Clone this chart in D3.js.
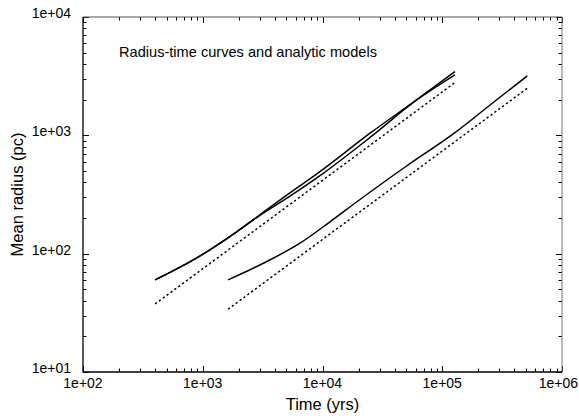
<!DOCTYPE html>
<html>
<head>
<meta charset="utf-8">
<script src="https://cdn.jsdelivr.net/npm/d3@7"></script>
<style>
  html, body { margin: 0; padding: 0; background: #fff; }
  svg { display: block; font-family: "Liberation Sans", Arial, Helvetica, sans-serif; }
</style>
</head>
<body>
<svg id="chart" width="579" height="416"></svg>
<script>
// ---- Data ----
const title = "Radius-time curves and analytic models";
const xTitle = "Time (yrs)";
const yTitle = "Mean radius (pc)";
const xTickValues = [1e2, 1e3, 1e4, 1e5, 1e6];
const xTickLabels = ["1e+02", "1e+03", "1e+04", "1e+05", "1e+06"];
const yTickValues = [1e1, 1e2, 1e3, 1e4];
const yTickLabels = ["1e+01", "1e+02", "1e+03", "1e+04"];

// Simulated curves (solid)
const timeA   = [400, 834, 1920, 3000, 5200, 9530, 24950, 59000, 127700];
const radiusA = [60, 88.5, 153, 213, 320, 493, 1042, 1950, 3454];
const timeB   = [400, 834, 1920, 3000, 5200, 9530, 24950, 59000, 127700];
const radiusB = [60, 88.5, 153, 211, 300, 456, 960, 1935, 3243];
const timeC   = [1626, 3206, 6486, 11560, 19900, 50000, 123600, 303000, 513000];
const radiusC = [60, 83, 122.5, 186, 280, 548, 1028, 2099, 3178];
// Analytic models (dashed)
const timeD1   = [400, 127700];
const radiusD1 = [37.6, 2793];
const timeD2   = [1626, 513000];
const radiusD2 = [33.9, 2500];

// ---- Layout ----
const svg = d3.select("#chart");
const L = 83, R = 562, T = 17, B = 372;
const x = d3.scaleLog().domain([1e2, 1e6]).range([L, R]);
const y = d3.scaleLog().domain([1e1, 1e4]).range([B, T]);

// Minor ticks
const minorX = [], minorY = [];
for (let d = 1e2; d < 1e6; d *= 10) for (let k = 2; k <= 9; k++) minorX.push(d * k);
for (let d = 1e1; d < 1e4; d *= 10) for (let k = 2; k <= 9; k++) minorY.push(d * k);

const tickG = svg.append("g").attr("stroke", "#000").attr("stroke-width", 1);
xTickValues.forEach(v => {
  const px = Math.round(x(v)) + 0.5;
  tickG.append("line").attr("x1", px).attr("x2", px).attr("y1", B).attr("y2", B - 6);
  tickG.append("line").attr("x1", px).attr("x2", px).attr("y1", T).attr("y2", T + 6);
});
minorX.forEach(v => {
  const px = Math.round(x(v)) + 0.5;
  tickG.append("line").attr("x1", px).attr("x2", px).attr("y1", B).attr("y2", B - 3.5);
  tickG.append("line").attr("x1", px).attr("x2", px).attr("y1", T).attr("y2", T + 3.5);
});
yTickValues.forEach(v => {
  const py = Math.round(y(v)) + 0.5;
  tickG.append("line").attr("x1", L).attr("x2", L + 6).attr("y1", py).attr("y2", py);
  tickG.append("line").attr("x1", R).attr("x2", R - 6).attr("y1", py).attr("y2", py);
});
minorY.forEach(v => {
  const py = Math.round(y(v)) + 0.5;
  tickG.append("line").attr("x1", L).attr("x2", L + 3.5).attr("y1", py).attr("y2", py);
  tickG.append("line").attr("x1", R).attr("x2", R - 3.5).attr("y1", py).attr("y2", py);
});

// Frame
svg.append("line").attr("x1", L).attr("x2", R).attr("y1", T).attr("y2", T).attr("stroke", "#555").attr("stroke-width", 1);
svg.append("line").attr("x1", R).attr("x2", R).attr("y1", T).attr("y2", B).attr("stroke", "#777").attr("stroke-width", 1);
svg.append("line").attr("x1", L).attr("x2", L).attr("y1", T).attr("y2", B + 0.5).attr("stroke", "#000").attr("stroke-width", 1.3);
svg.append("line").attr("x1", L).attr("x2", R).attr("y1", B).attr("y2", B).attr("stroke", "#000").attr("stroke-width", 1.3);

// Tick labels (last one kept inside the window)
const nX = xTickValues.length;
svg.append("g").selectAll("text").data(xTickValues).join("text")
  .attr("x", (d, i) => i === nX - 1 ? 578 : x(d)).attr("y", 388)
  .attr("text-anchor", (d, i) => i === nX - 1 ? "end" : "middle")
  .attr("font-size", 14).attr("fill", "#000")
  .text((d, i) => xTickLabels[i]);
svg.append("g").selectAll("text").data(yTickValues).join("text")
  .attr("x", 71).attr("y", d => y(d) + 1)
  .attr("text-anchor", "end").attr("font-size", 14).attr("fill", "#000")
  .text((d, i) => yTickLabels[i]);

// Axis titles
svg.append("text").attr("x", (L + R) / 2).attr("y", 410).attr("text-anchor", "middle")
  .attr("font-size", 16.5).text(xTitle);
svg.append("text").attr("transform", `translate(23,${(T + B) / 2}) rotate(-90)`)
  .attr("text-anchor", "middle").attr("font-size", 16.5).text(yTitle);

// Title inside plot
svg.append("text").attr("x", 119).attr("y", 57).attr("font-size", 14.6).text(title);

// Lines
const line = d3.line().x(d => x(d[0])).y(d => y(d[1])).curve(d3.curveMonotoneX);
const zip = (a, b) => a.map((v, i) => [v, b[i]]);
const g = svg.append("g").attr("fill", "none").attr("stroke", "#000");
g.append("path").attr("d", line(zip(timeA, radiusA))).attr("stroke-width", 1.5);
g.append("path").attr("d", line(zip(timeB, radiusB))).attr("stroke-width", 1.5);
g.append("path").attr("d", line(zip(timeC, radiusC))).attr("stroke-width", 1.5);
g.append("path").attr("d", line(zip(timeD1, radiusD1))).attr("stroke-width", 1.5).attr("stroke-dasharray", "2.2,2.6");
g.append("path").attr("d", line(zip(timeD2, radiusD2))).attr("stroke-width", 1.5).attr("stroke-dasharray", "2.2,2.6");
</script>
</body>
</html>
